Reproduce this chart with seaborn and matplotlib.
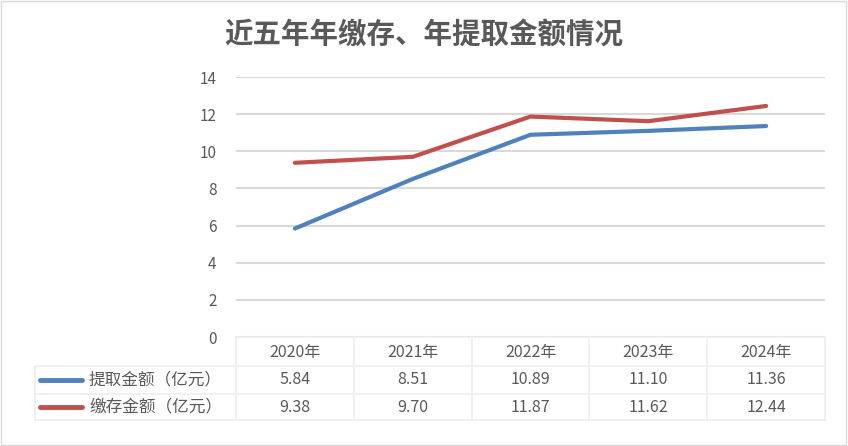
import matplotlib
matplotlib.use("Agg")
import matplotlib.pyplot as plt
import seaborn as sns
import pandas as pd
from matplotlib.lines import Line2D
from matplotlib.patches import Rectangle

years = ["2020年", "2021年", "2022年", "2023年", "2024年"]
series_names = ["提取金额（亿元）", "缴存金额（亿元）"]
withdraw = [5.84, 8.51, 10.89, 11.10, 11.36]
deposit = [9.38, 9.70, 11.87, 11.62, 12.44]
yticks = [0, 2, 4, 6, 8, 10, 12, 14]
title = "近五年年缴存、年提取金额情况"

colors = ["#4F81BD", "#C0504D"]
txt = "#595959"
grid = "#D9D9D9"
tbl = "#EDEDED"

sns.set_theme(style="white")
plt.rcParams['font.family'] = ['Noto Sans CJK SC', 'DejaVu Sans']

W, H = 848, 446
fig = plt.figure(figsize=(W / 100, H / 100), dpi=100)

def fx(px):
    return px / W

def fy(py):
    return 1 - py / H

left, right, top, bottom = 236, 825, 77, 337
ax = fig.add_axes([fx(left), fy(bottom), fx(right) - fx(left), fy(top) - fy(bottom)])

df = pd.DataFrame({
    "year": years * 2,
    "idx": list(range(len(years))) * 2,
    "value": withdraw + deposit,
    "series": [series_names[0]] * len(years) + [series_names[1]] * len(years),
})
sns.lineplot(data=df, x="idx", y="value", hue="series", palette=colors,
             linewidth=3, ax=ax, legend=False, sort=False)

ax.set_xlim(-0.5, len(years) - 0.5)
ax.set_ylim(0, 14)
ax.set_yticks(yticks)
ax.set_yticklabels([str(t) for t in yticks], color=txt, fontsize=11)
ax.set_xticks([])
ax.set_xlabel("")
ax.set_ylabel("")
ax.tick_params(axis="y", length=0, pad=14)
ax.yaxis.grid(True, color=grid, linewidth=1.5)
ax.set_axisbelow(True)
for s in ax.spines.values():
    s.set_visible(False)

# title
fig.text(0.5, fy(35), title, ha="center", va="center", fontsize=20.5,
         color=txt, fontweight="bold")

# data table
row_y = [337, 366, 394, 420]
col_x = [left + i * (right - left) / len(years) for i in range(len(years) + 1)]
tleft = 35
lw = 1.2
fig.add_artist(Line2D([fx(left), fx(right)], [fy(row_y[0])] * 2, color=tbl, lw=lw))
for yy in row_y[1:]:
    fig.add_artist(Line2D([fx(tleft), fx(right)], [fy(yy)] * 2, color=tbl, lw=lw))
for xx in col_x:
    fig.add_artist(Line2D([fx(xx)] * 2, [fy(row_y[0]), fy(row_y[-1])], color=tbl, lw=lw))
fig.add_artist(Line2D([fx(tleft)] * 2, [fy(row_y[1]), fy(row_y[-1])], color=tbl, lw=lw))

centers_x = [(col_x[i] + col_x[i + 1]) / 2 for i in range(len(years))]
hdr_y = (row_y[0] + row_y[1]) / 2 + 1
for cx, yr in zip(centers_x, years):
    fig.text(fx(cx), fy(hdr_y), yr, ha="center", va="center", fontsize=11.5, color=txt)

for r, (name, vals, c) in enumerate(zip(series_names, [withdraw, deposit], colors)):
    cy = (row_y[r + 1] + row_y[r + 2]) / 2
    fig.add_artist(Line2D([fx(40), fx(82)], [fy(cy)] * 2, color=c, lw=3.5,
                          solid_capstyle="round"))
    fig.text(fx(89), fy(cy), name, ha="left", va="center", fontsize=12, color=txt)
    for cx, v in zip(centers_x, vals):
        fig.text(fx(cx), fy(cy), f"{v:.2f}", ha="center", va="center", fontsize=11.5, color=txt)

fig.add_artist(Rectangle((0.001, 0.002), 0.997, 0.995, transform=fig.transFigure,
                         fill=False, edgecolor="#D9D9D9", lw=1))

fig.savefig("out.png", dpi=100)
